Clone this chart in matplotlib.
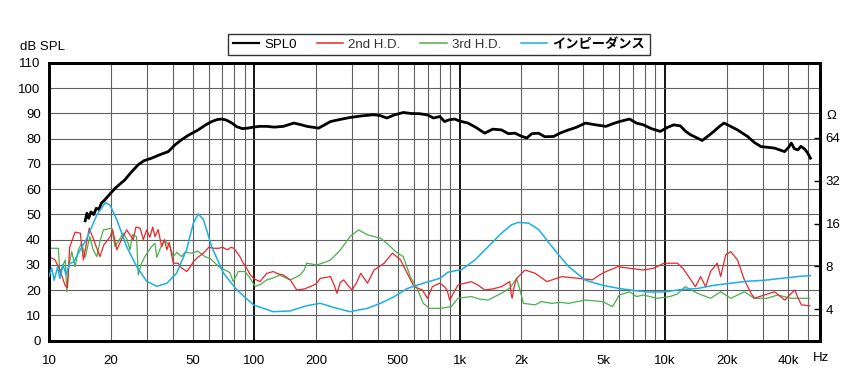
import numpy as np
import matplotlib.pyplot as plt
from matplotlib.lines import Line2D

plt.rcParams['font.family'] = ['Liberation Sans', 'Noto Sans CJK JP', 'DejaVu Sans']

# SPL0 (dB)
spl_f = [15.0, 15.3, 15.6, 16.0, 16.5, 17.0, 17.5, 18.0, 18.7, 19.5, 21.0, 23.4, 25.0, 27.2, 29.0,
         31.6, 35.0, 38.1, 41.0, 44.2, 48.0, 53.3, 58.0, 62.0, 66.0, 69.4, 73.0, 77.9, 82.0, 87.5,
         93.0, 99.1, 106, 115, 125, 138.6, 155.7, 168, 180.5, 205.8, 220, 235, 260, 292, 330,
         380, 410, 442, 480, 532, 580, 641, 700, 746, 801, 845, 890, 947, 1000, 1099,
         1200, 1326, 1450, 1600, 1730, 1862, 2000, 2125, 2250, 2424, 2600, 2869, 3100, 3394, 3700,
         4103, 4600, 5167, 5600, 6005, 6730, 7271, 7865, 8600, 9500, 10300, 11050, 11900, 12600, 13320,
         14200, 15200, 16200, 17330, 18400, 19420, 20800, 22580, 25290, 27300, 29400, 34170, 38300, 40000, 41300,
         42800, 44500, 46000, 48000, 49500, 51200]
spl_db = [47.5, 50.5, 48.5, 51, 50, 52.5, 52, 54.5, 55.8, 57.5, 60.4, 63.7, 66.5, 69.7, 71.3,
          72.3, 73.8, 74.9, 77.5, 79.6, 81.5, 83.5, 85.5, 86.8, 87.6, 87.8, 87.4, 86.2, 84.8, 84.0,
          84.2, 84.6, 84.9, 84.9, 84.6, 84.9, 86.2, 85.6, 84.9, 84.2, 85.5, 86.8, 87.6, 88.4, 89.0,
          89.5, 89.2, 88.2, 89.4, 90.4, 90.0, 89.9, 89.4, 88.2, 88.8, 86.8, 87.5, 87.8, 87.0, 86.2,
          84.5, 82.2, 83.8, 83.5, 82.0, 82.2, 81.0, 80.3, 82.0, 82.2, 80.8, 80.9, 82.3, 83.5, 84.5,
          86.2, 85.5, 84.9, 86.0, 86.8, 87.8, 86.2, 85.5, 84.0, 82.9, 84.5, 85.5, 85.1, 83.0, 81.6,
          80.5, 79.3, 81.0, 82.9, 84.8, 86.2, 85.0, 83.5, 80.9, 78.5, 76.9, 76.3, 74.9, 76.5, 78.3,
          76.0, 75.6, 77.0, 75.9, 74.5, 72.3]

# 2nd H.D. (dB)
hd2_f = [10, 10.7, 11.3, 11.96, 12.3, 12.6, 13.4, 14.2, 14.7, 15.7, 16.5, 17.7, 18.5, 19.8, 20.4,
         21.4, 22.5, 23.9, 25.7, 26.5, 27.8, 28.8, 29.9, 31, 32.0, 32.8, 34, 35.4, 36.5, 37.5,
         38.5, 40.3, 42.6, 44, 46.8, 48.5, 50.5, 53, 56.6, 60, 63.5, 67, 70, 74, 77,
         79.6, 85.1, 88, 91.8, 95, 98.9, 106.5, 115, 123.7, 130, 138.7, 150, 161, 175, 187,
         200, 209.6, 235, 245, 253, 262, 272.5, 285, 299.5, 315, 330, 356, 383, 429, 471,
         516, 556, 600, 659, 697, 737, 801, 845, 870, 895, 983, 1142, 1230, 1326, 1450,
         1600, 1757, 1780, 1803, 1840, 1896, 2086, 2335, 2664, 3150, 3810, 4436, 4800, 5170, 5900,
         6730, 7865, 8820, 9900, 11500, 12300, 13060, 14100, 14930, 15800, 16700, 18000, 18700, 19800, 20950,
         22580, 24400, 26300, 27300, 30600, 34200, 38400, 41000, 43000, 44600, 46300, 50800]
hd2_db = [33.3, 32, 28, 22, 21, 37, 43, 42.6, 32, 44.6, 40, 33.3, 38, 41, 44,
          36, 40, 43.9, 40, 45, 44.6, 40, 43.9, 41, 45, 41.2, 44, 37.3, 40, 36,
          39, 30.7, 30.7, 29, 27.4, 29, 31.3, 33, 34.7, 37, 36.6, 36.6, 37, 36, 37,
          36.6, 33.3, 31, 28.7, 26.5, 24.7, 23.4, 26.7, 27.4, 26.5, 26, 24, 20.1, 20.5, 21.4,
          22.5, 24.7, 25.4, 22, 18.8, 23, 24.1, 22, 20.1, 23, 26.7, 22.8, 28, 30.7, 34.7,
          32, 26.7, 21.4, 20.1, 16.8, 21.4, 22.8, 21.4, 20, 16.1, 22.1, 23.4, 22, 20.1, 20.5,
          21.4, 23.4, 19, 16.8, 21, 24.7, 28, 26.7, 23.4, 25.4, 24.7, 24.1, 26, 27.4, 29.3,
          28.7, 28, 28.7, 30.7, 30.7, 28.5, 25.4, 21.4, 25.4, 21.4, 27.4, 30.7, 25.4, 34, 35.3,
          32, 24.1, 18.8, 16.8, 18.1, 19.4, 16.1, 18.5, 20.1, 16.8, 14.2, 13.8]

# 3rd H.D. (dB)
hd3_f = [10, 11.1, 11.3, 11.7, 12.0, 12.2, 12.5, 12.9, 13.4, 13.9, 14.4, 15.0, 15.8, 16.4, 17.1,
         17.8, 18.4, 20.2, 20.96, 22, 23, 24, 24.8, 25.5, 26.7, 27.2, 28, 29.3, 31.6, 32.8,
         33.5, 35, 36.7, 38.8, 40.3, 42, 44.2, 46, 49.5, 53, 57.5, 61, 64.4, 68, 72,
         76, 79, 83.5, 90, 95, 101, 108, 115, 125, 133, 149.5, 158, 167, 175, 180,
         201.5, 220, 235, 263, 292, 322, 356, 412, 442, 488, 532, 575, 620, 665, 713,
         801, 911, 983, 1142, 1250, 1377, 1600, 1757, 1896, 1970, 2045, 2335, 2500, 2820, 3100,
         3395, 4103, 4970, 5560, 6000, 6730, 7270, 7870, 9180, 10600, 11500, 12550, 14400, 16700, 18700,
         20950, 24400, 27300, 31400, 35400, 41300, 50800]
hd3_db = [36.6, 36.6, 26.7, 30, 32, 19.4, 30, 35.3, 29.3, 36, 38.6, 33, 41.2, 36, 33.3,
          40, 43.9, 44.6, 37.3, 40, 42.6, 40, 36, 42, 41.2, 26, 30, 33.3, 37.3, 38.6,
          33, 37, 39.9, 37.3, 33.3, 35, 33.3, 35, 34.7, 35.5, 33.3, 32.5, 30.7, 29, 28,
          27, 23.4, 27.4, 27.4, 25, 21.4, 22.5, 24.1, 25, 26, 24.1, 25, 26, 28, 30.7,
          30, 31, 32, 36, 41.2, 43.9, 41.9, 40.6, 38.6, 35.3, 33.3, 25.4, 20.8, 14.8, 12.8,
          12.8, 13.5, 16.8, 17.5, 16.5, 16.1, 18.8, 20.8, 24.7, 20.1, 14.8, 14.2, 15.5, 14.8, 15.2,
          14.8, 16.1, 15.5, 13.5, 18.1, 19.4, 17.5, 18.1, 16.8, 17.5, 18.5, 21.4, 18.8, 16.8, 19.4,
          16.8, 19.4, 16.8, 16.8, 18.1, 16.8, 16.8]

# インピーダンス (Ω)
imp_f = [10, 10.3, 10.6, 11.0, 11.3, 11.7, 12.1, 12.6, 13.2, 13.9, 15.3, 17.1, 18.8, 19.8, 21.4,
         23.9, 26.7, 29.9, 33.5, 37.5, 41.9, 46.8, 50.5, 53.3, 56.6, 62, 70.7, 82, 99, 123.7,
         149.5, 180, 209.6, 243, 292, 356, 412, 479, 556, 665, 801, 880, 1024, 1190, 1377,
         1600, 1795, 1935, 2170, 2430, 2820, 3395, 4103, 4970, 6000, 7270, 8170, 9900, 11900, 14400,
         17340, 20950, 25300, 30600, 37000, 44500, 51200]
imp_ohm = [6.8, 7.8, 6.4, 7.9, 6.6, 8.2, 7.0, 8.4, 8.6, 9.9, 12.6, 18.4, 22.4, 21.6, 17.0,
           11.0, 8.0, 6.3, 5.8, 6.1, 7.2, 10.5, 16.1, 18.7, 17.0, 11.0, 7.2, 5.5, 4.3, 3.85,
           3.9, 4.24, 4.41, 4.13, 3.85, 4.07, 4.41, 4.9, 5.6, 6.1, 6.6, 7.3, 7.6, 8.9, 11.0,
           13.7, 15.7, 16.3, 16.1, 14.5, 11.0, 8.0, 6.4, 5.9, 5.6, 5.4, 5.3, 5.3, 5.5, 5.6,
           5.9, 6.1, 6.3, 6.4, 6.6, 6.8, 6.9]

x_ticks = [10, 20, 50, 100, 200, 500, 1000, 2000, 5000, 10000, 20000, 40000]
x_labels = ["10", "20", "50", "100", "200", "500", "1k", "2k", "5k", "10k", "20k", "40k"]
z_ticks = [4, 8, 16, 32, 64]

c_red = "#e8262b"
c_green = "#4cae4c"
c_cyan = "#19b0e3"

fig = plt.figure(figsize=(8.54, 3.91), dpi=100)
ax = fig.add_axes([0.0574, 0.1286, 0.9028, 0.7103])
ax.set_xscale("log")
ax.set_xlim(10, 57000)
ax.set_ylim(0, 110)

# grid
for dec in [10, 100, 1000, 10000]:
    for m in range(1, 10):
        f = dec * m
        if f <= 10 or f > 50000:
            continue
        if m == 1:
            ax.axvline(f, color="black", lw=1.3, zorder=1)
        else:
            ax.axvline(f, color="#606060", lw=0.8, zorder=1)
for yv in range(10, 110, 10):
    ax.axhline(yv, color="#606060", lw=0.8, zorder=1)

ax.plot(hd3_f, hd3_db, color=c_green, lw=0.9, zorder=3)
ax.plot(hd2_f, hd2_db, color=c_red, lw=0.9, zorder=4)
ax.plot(spl_f, spl_db, color="black", lw=2.0, zorder=6)

ax.set_xticks(x_ticks)
ax.set_xticklabels(x_labels)
ax.xaxis.set_minor_locator(plt.NullLocator())
ax.set_yticks(range(0, 111, 10))
ax.tick_params(axis="both", length=0, labelsize=9.5, pad=6)
ax.tick_params(axis="x", pad=10)

ax2 = ax.twinx()
ax2.set_yscale("log")
ax2.set_ylim(2.41, 214)
ax2.plot(imp_f, imp_ohm, color=c_cyan, lw=1.1, zorder=5)
ax2.set_yticks(z_ticks)
ax2.set_yticklabels([str(z) for z in z_ticks])
ax2.yaxis.set_minor_locator(plt.NullLocator())
ax2.tick_params(axis="y", direction="in", length=4, width=1, labelsize=9.5, pad=4)

for a in (ax, ax2):
    for s in a.spines.values():
        s.set_linewidth(2)

fig.text(20 / 854, 1 - 47 / 391, "dB SPL", fontsize=9.5, va="center", ha="left")
fig.text(831 / 854, 1 - 116 / 391, "Ω", fontsize=9.5, va="center", ha="center")
fig.text(821 / 854, 1 - 358 / 391, "Hz", fontsize=9.5, va="center", ha="center")

handles = [Line2D([], [], color="black", lw=1.6),
           Line2D([], [], color=c_red, lw=1.1),
           Line2D([], [], color=c_green, lw=1.1),
           Line2D([], [], color=c_cyan, lw=1.1)]
labels = ["SPL0", "2nd H.D.", "3rd H.D.", "インピーダンス"]
leg = fig.legend(handles, labels, loc="center", bbox_to_anchor=(439 / 854, 1 - 44.5 / 391), ncol=4,
                 fontsize=9.5, frameon=True, fancybox=False, edgecolor="black", handlelength=2.0,
                 handletextpad=0.4, columnspacing=1.5, borderpad=0.35, borderaxespad=0)
leg.get_frame().set_linewidth(1.0)
for t in leg.get_texts()[1:3]:
    t.set_color("#333333")
leg.get_texts()[3].set_fontweight("bold")

fig.savefig("out.png", dpi=100)
